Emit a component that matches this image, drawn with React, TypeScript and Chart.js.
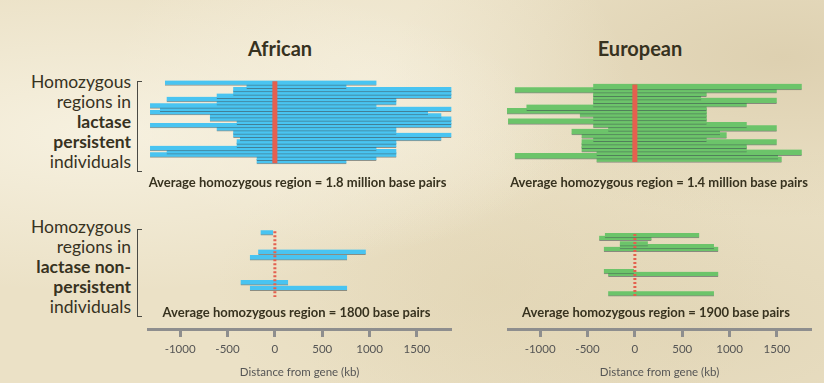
import React, { useEffect, useRef } from "react";
import { Chart, registerables } from "chart.js";
Chart.register(...registerables);

// ---------- data ----------
const X_MIN = -1350;
const X_MAX = 1870;
const X_TICKS = [-1000, -500, 0, 500, 1000, 1500];
const X_TITLE = "Distance from gene (kb)";
const POPULATIONS = ["African", "European"];

const LABEL_PERSISTENT = [
  { t: "Homozygous", b: false },
  { t: "regions in", b: false },
  { t: "lactase", b: true },
  { t: "persistent", b: true },
  { t: "individuals", b: false },
];
const LABEL_NON_PERSISTENT = [
  { t: "Homozygous", b: false },
  { t: "regions in", b: false },
  { t: "lactase non-", b: true },
  { t: "persistent", b: true },
  { t: "individuals", b: false },
];

const AVG_AFR_P = "Average homozygous region = 1.8 million base pairs";
const AVG_EUR_P = "Average homozygous region = 1.4 million base pairs";
const AVG_AFR_NP = "Average homozygous region = 1800 base pairs";
const AVG_EUR_NP = "Average homozygous region = 1900 base pairs";

// African, lactase persistent: one row per individual (kb)
const AFR_P_ROWS = [0, 1, 2, 3, 4, 5, 6, 7, 8, 9, 10, 11, 12, 13, 14, 15, 16, 17, 18, 19, 20, 21, 22, 23, 24];
const AFR_P_START = [-1160, -300, -440, -440, -615, -1143, -615, -1318, -1213, -1318, -686, -686, -404, -1318, -615, -440, -440, -369, -404, -404, -1318, -1143, -1318, -193, -193];
const AFR_P_END = [1073, 756, 1864, 1864, 1864, 1283, 1283, 1073, 1864, 1617, 1758, 1864, 1864, 1864, 1283, 1283, 1864, 1758, 1283, 1283, 1073, 1283, 1283, 1073, 756];

// European, lactase persistent
const EUR_P_ROWS = [0, 1, 2, 3, 4, 5, 6, 7, 8, 9, 10, 11, 12, 13, 14, 15, 16, 17, 18, 19, 20, 21];
const EUR_P_START = [-440, -1268, -440, -440, -440, -440, -1145, -1427, -581, -440, -1339, -440, -282, -669, -563, -440, -563, -563, -563, -405, -1268, -405];
const EUR_P_END = [1762, 1498, 758, 700, 1498, 1181, 758, 758, 758, 758, 758, 1181, 1498, 899, 969, 758, 1498, 1181, 1181, 1762, 1511, 1550];

// African, lactase non-persistent (only individuals with a visible region)
const AFR_NP_ROWS = [0, 7, 9, 18, 20];
const AFR_NP_START = [-151, -176, -264, -362, -264];
const AFR_NP_END = [-18, 960, 763, 140, 763];

// European, lactase non-persistent
const EUR_NP_ROWS = [1, 2, 4, 5, 6, 14, 15, 22];
const EUR_NP_START = [-317, -377, -159, -159, -328, -328, -282, -282];
const EUR_NP_END = [680, 176, 137, 835, 881, -10, 881, 835];

// ---------- styling ----------
const FONT = "Lato, 'Open Sans', sans-serif";
const TEXT = "#37321f";
const BLUE = "#49c4f1";
const GREEN = "#6cc46a";
const RED = "#e4604f";
const EDGE = "rgba(60,72,76,0.55)";
const AXIS = "#8e8e8e";

type PanelProps = {
  left: number; top: number; width: number; height: number;
  rows: number[]; starts: number[]; ends: number[];
  rowPx: number; firstRowPx: number; barPx: number;
  color: string; redWidth: number; dotted: boolean;
  redFrom: number; redTo: number; axisPx: number;
};

function Panel(p: PanelProps) {
  const ref = useRef<HTMLCanvasElement | null>(null);
  useEffect(() => {
    if (!ref.current) return;
    const areaH = p.height - p.axisPx;
    const yMin = -p.firstRowPx / p.rowPx;
    const yMax = yMin + areaH / p.rowPx;
    const bars = p.rows.map((r, i) => ({ x: [p.starts[i], p.ends[i]], y: r })).reverse();
    const showAxis = p.axisPx > 0;
    const chart = new Chart(ref.current, {
      type: "bar",
      data: {
        datasets: [
          {
            type: "line",
            data: [{ x: 0, y: p.redFrom }, { x: 0, y: p.redTo }],
            borderColor: RED,
            borderWidth: p.redWidth,
            borderDash: p.dotted ? [2, 2] : [],
            borderCapStyle: "butt",
            pointRadius: 0,
            order: 0,
            indexAxis: "y",
          } as any,
          {
            type: "bar",
            data: bars as any,
            backgroundColor: p.color,
            borderColor: EDGE,
            borderWidth: { top: 0, right: 0, bottom: 1, left: 0 },
            borderSkipped: false,
            barThickness: p.barPx,
            grouped: false,
            order: 1,
          } as any,
        ],
      },
      options: {
        indexAxis: "y",
        animation: false,
        responsive: false,
        maintainAspectRatio: false,
        layout: { padding: 0 },
        plugins: { legend: { display: false }, tooltip: { enabled: false } },
        scales: {
          x: {
            type: "linear",
            min: X_MIN,
            max: X_MAX,
            display: showAxis,
            position: "bottom",
            afterBuildTicks: (s: any) => {
              s.ticks = X_TICKS.map((v) => ({ value: v }));
            },
            afterFit: (s: any) => {
              if (showAxis) s.height = p.axisPx;
            },
            grid: { display: true, drawOnChartArea: false, drawTicks: true, tickLength: 8, color: AXIS, lineWidth: 3 },
            border: { display: true, color: AXIS, width: 3 },
            ticks: {
              color: "#555",
              font: { family: FONT, size: 11.5 },
              padding: 5,
              maxRotation: 0,
              autoSkip: false,
              callback: (v: any) => String(v),
            },
            title: { display: true, text: X_TITLE, color: "#555", font: { family: FONT, size: 11.5 }, padding: { top: 0, bottom: 4 } },
          },
          y: { type: "linear", reverse: true, min: yMin, max: yMax, display: false },
        },
      } as any,
    });
    return () => chart.destroy();
  }, []);
  return (
    <canvas
      ref={ref}
      width={p.width}
      height={p.height}
      style={{ position: "absolute", left: p.left, top: p.top, width: p.width, height: p.height }}
    />
  );
}

function Text(props: { x: number; y: number; text: string; size: number; bold?: boolean; color?: string }) {
  return (
    <div
      style={{
        position: "absolute",
        left: props.x,
        top: props.y,
        transform: "translate(-50%, -50%)",
        whiteSpace: "nowrap",
        fontFamily: FONT,
        fontSize: props.size,
        fontWeight: props.bold ? 700 : 400,
        color: props.color || TEXT,
        lineHeight: 1.2,
      }}
    >
      {props.text}
    </div>
  );
}

function RowLabel(props: { top: number; lines: { t: string; b: boolean }[] }) {
  return (
    <div
      style={{
        position: "absolute",
        left: 0,
        width: 131,
        top: props.top,
        textAlign: "right",
        fontFamily: FONT,
        fontSize: 17.5,
        lineHeight: "20px",
        color: TEXT,
      }}
    >
      {props.lines.map((l, i) => (
        <div key={i} style={{ fontWeight: l.b ? 700 : 400, whiteSpace: "nowrap" }}>{l.t}</div>
      ))}
    </div>
  );
}

function Bracket(props: { top: number; height: number }) {
  return (
    <div
      style={{
        position: "absolute",
        left: 137,
        top: props.top,
        width: 5,
        height: props.height,
        borderLeft: "1.5px solid #4a4a44",
        borderTop: "1.5px solid #4a4a44",
        borderBottom: "1.5px solid #4a4a44",
        boxSizing: "border-box",
      }}
    />
  );
}

export default function App() {
  return (
    <div
      style={{
        position: "absolute",
        left: 0,
        top: 0,
        width: 824,
        height: 383,
        overflow: "hidden",
        backgroundColor: "#ebe1c6",
        backgroundImage:
          "radial-gradient(ellipse at 12% 35%, rgba(250,246,232,0.75), rgba(250,246,232,0) 45%)," +
          "radial-gradient(ellipse at 45% 20%, rgba(247,241,224,0.6), rgba(247,241,224,0) 40%)," +
          "radial-gradient(ellipse at 95% 15%, rgba(205,188,150,0.45), rgba(205,188,150,0) 35%)," +
          "radial-gradient(ellipse at 60% 75%, rgba(222,208,172,0.45), rgba(222,208,172,0) 40%)," +
          "radial-gradient(ellipse at 85% 85%, rgba(214,200,165,0.4), rgba(214,200,165,0) 40%)",
      }}
    >
      <Text x={280} y={48} text={POPULATIONS[0]} size={20} bold />
      <Text x={640} y={48} text={POPULATIONS[1]} size={20} bold />

      <RowLabel top={71.7} lines={LABEL_PERSISTENT} />
      <RowLabel top={216.7} lines={LABEL_NON_PERSISTENT} />
      <Bracket top={81} height={91} />
      <Bracket top={229} height={88} />

      <Panel left={147} top={68} width={305} height={108}
        rows={AFR_P_ROWS} starts={AFR_P_START} ends={AFR_P_END}
        rowPx={3.92} firstRowPx={7.2} barPx={5} color={BLUE}
        redWidth={5} dotted={false} redFrom={-0.56} redTo={24.57} axisPx={0} />
      <Panel left={507} top={68} width={305} height={108}
        rows={EUR_P_ROWS} starts={EUR_P_START} ends={EUR_P_END}
        rowPx={4.33} firstRowPx={10} barPx={6} color={GREEN}
        redWidth={5} dotted={false} redFrom={-0.69} redTo={21.7} axisPx={0} />

      <Panel left={147} top={212} width={305} height={171}
        rows={AFR_NP_ROWS} starts={AFR_NP_START} ends={AFR_NP_END}
        rowPx={3.7} firstRowPx={8} barPx={5} color={BLUE}
        redWidth={3} dotted={true} redFrom={-0.54} redTo={23.2} axisPx={54} />
      <Panel left={507} top={212} width={305} height={171}
        rows={EUR_NP_ROWS} starts={EUR_NP_START} ends={EUR_NP_END}
        rowPx={3.7} firstRowPx={8} barPx={5} color={GREEN}
        redWidth={3} dotted={true} redFrom={0.54} redTo={23} axisPx={54} />

      <Text x={297.5} y={183} text={AVG_AFR_P} size={13} bold />
      <Text x={659} y={183} text={AVG_EUR_P} size={13} bold />
      <Text x={296.5} y={313} text={AVG_AFR_NP} size={13} bold />
      <Text x={656} y={313} text={AVG_EUR_NP} size={13} bold />
    </div>
  );
}
